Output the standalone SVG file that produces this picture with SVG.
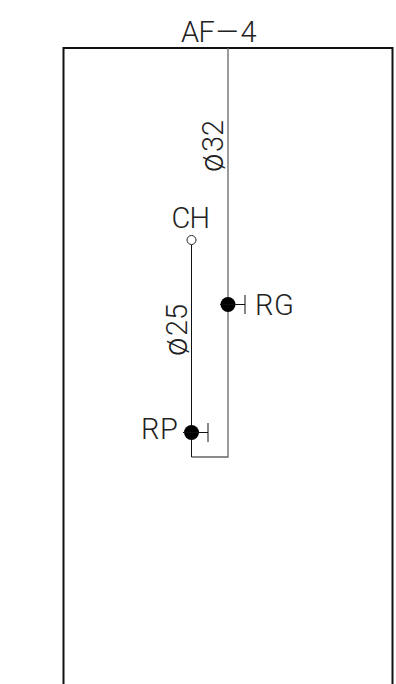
<svg xmlns="http://www.w3.org/2000/svg" width="396" height="684" viewBox="0 0 396 684">
<style>
.t{font-family:"Roboto","Liberation Sans",Arial,sans-serif;font-size:29px;fill:#222;font-weight:300}
.p{font-size:33px}
.s{fill:none;stroke:#111;stroke-width:1}
.g{fill:none;stroke:#666;stroke-width:1.300}
.f{fill:none;stroke:#111;stroke-width:2}
</style>
<rect width="396" height="684" fill="#fff"/>
<g id="frame"><path class="f" d="M63.500 684V48H392.500V684"/></g>
<g id="connectors">
<path class="g" d="M228 48V457H191.500"/>
<path class="s" d="M191.500 245V457"/>
</g>
<g id="title"><text class="t" x="181 198.500 216 240.500" y="41.500">AF—4</text></g>
<g id="d32"><text class="t" transform="translate(223 172) rotate(-90)"><tspan class="p" x="0">ø</tspan><tspan x="20 36">32</tspan></text></g>
<g id="d25"><text class="t" transform="translate(186.500 356) rotate(-90)"><tspan class="p" x="0">ø</tspan><tspan x="20 36">25</tspan></text></g>
<g id="CH"><circle cx="191.500" cy="240" r="4.500" fill="#fff" stroke="#222" stroke-width="1"/>
<text class="t" x="171.500 189.500" y="228">CH</text></g>
<g id="RG"><circle cx="228" cy="304.500" r="7.500" fill="#000"/><path class="s" d="M220 304.500H245M245 295V314"/>
<text class="t" x="255 274" y="315">RG</text></g>
<g id="RP"><circle cx="191.500" cy="432.500" r="7.500" fill="#000"/><path class="s" d="M183 432.500H208M208 423V442"/>
<text class="t" x="141 160" y="439">RP</text></g>
</svg>
